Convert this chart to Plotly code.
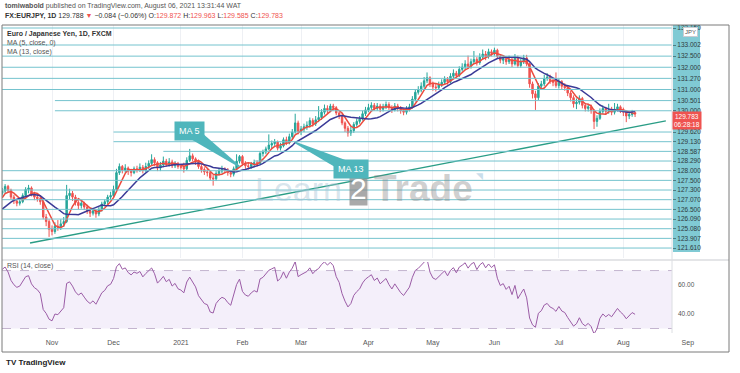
import numpy as np
import pandas as pd
import plotly.graph_objects as go

# ---------------- data ----------------
START_DATE = "2020-10-08"
# closes before the left edge (only used to warm up the indicators)
WARMUP_CLOSE = [125.30, 125.90, 125.80, 125.45, 125.30, 124.90, 124.40, 124.20, 123.30, 122.90,
                122.60, 122.65, 122.60, 123.10, 123.10, 123.75, 124.05, 123.70, 124.35, 124.15, 124.60]

CLOSE = [
    124.75, 125.05, 124.80, 124.35, 124.10, 123.95, 124.05, 124.45, 124.85, 124.95, 124.55, 124.35, 124.25, 124.05, 123.05, 122.75, 122.25,
    122.10, 122.45, 122.40, 122.60, 122.75, 124.45, 124.60, 124.35, 124.00, 123.80, 123.95, 123.70, 123.45, 123.30, 123.45, 123.25, 123.55, 123.90, 124.05, 124.35, 124.45,
    124.85, 125.95, 126.35, 126.10, 126.25, 126.05, 125.95, 126.20, 126.15, 126.30, 126.10, 126.35, 126.55, 126.80, 126.60, 126.25, 126.45, 126.70, 126.50, 126.65, 126.40, 126.55, 126.35,
    126.30, 126.20, 126.75, 127.05, 126.85, 126.70, 126.35, 126.15, 126.00, 125.95, 125.60, 125.55, 125.90, 126.05, 126.15, 126.10, 125.95, 125.85, 126.20, 126.70, 127.00,
    126.55, 126.40, 126.35, 126.50, 126.60, 126.55, 127.20, 127.30, 127.50, 127.75, 127.85, 127.95, 127.55, 127.70, 128.10, 127.90, 128.30, 128.60, 129.20, 128.65,
    128.80, 128.95, 129.05, 129.35, 129.15, 129.40, 129.55, 129.90, 130.15, 130.05, 130.30, 130.20, 129.85, 129.65, 129.20, 128.85, 128.55, 128.70, 129.10, 129.30, 129.45, 129.80, 130.05,
    130.20, 130.35, 130.15, 130.30, 130.10, 130.25, 130.40, 130.20, 130.05, 130.30, 130.15, 130.00, 129.90, 130.10, 130.25, 130.75, 131.20, 131.35, 131.60, 131.95, 132.15, 131.75,
    131.55, 131.50, 131.70, 131.85, 132.05, 131.90, 132.25, 132.45, 132.30, 132.70, 132.85, 133.05, 132.90, 133.20, 133.35, 133.15, 133.50, 133.70, 133.55, 133.85, 133.75,
    133.95, 133.55, 133.30, 133.40, 133.20, 133.35, 133.05, 133.50, 132.95, 133.20, 133.45, 133.05, 131.75, 131.10, 130.85, 131.60, 131.75, 132.10, 132.20, 131.95, 131.85, 131.65,
    131.90, 131.60, 131.50, 131.15, 130.85, 130.45, 130.55, 130.80, 130.35, 130.15, 130.25, 130.00, 129.30, 129.50, 129.95, 130.15, 129.95, 130.05, 129.90, 130.10, 130.25, 130.05,
    129.90, 129.65, 129.75, 129.872, 129.783,
]
HIGH = [
    124.95, 125.20, 125.15, 124.90, 124.50, 124.20, 124.30, 124.60, 125.00, 125.15, 125.05, 124.70, 124.55, 124.40, 124.15, 123.25, 122.90,
    122.50, 122.70, 122.85, 122.90, 123.05, 125.15, 124.90, 124.75, 124.50, 124.15, 124.10, 124.05, 123.85, 123.60, 123.65, 123.55, 123.70, 124.05, 124.20, 124.50, 124.70,
    125.10, 126.20, 126.55, 126.45, 126.50, 126.35, 126.20, 126.35, 126.40, 126.55, 126.45, 126.60, 126.75, 127.15, 126.95, 126.70, 126.65, 127.00, 126.85, 126.90, 126.80, 126.70, 126.65,
    126.45, 126.60, 126.95, 127.50, 127.20, 126.95, 126.80, 126.50, 126.30, 126.20, 126.05, 125.80, 126.05, 126.25, 126.40, 126.30, 126.25, 126.10, 126.35, 127.15, 127.10,
    127.10, 126.70, 126.60, 126.65, 126.80, 126.75, 127.35, 127.45, 127.65, 128.45, 128.05, 128.15, 128.05, 127.90, 128.25, 128.30, 128.50, 128.80, 129.80, 129.35,
    129.00, 129.15, 129.30, 129.55, 129.50, 129.65, 130.30, 130.10, 130.40, 130.35, 130.45, 130.45, 130.30, 129.95, 129.75, 129.30, 129.00, 128.95, 129.25, 129.50, 129.65, 130.00, 130.25,
    130.45, 130.55, 130.50, 130.50, 130.45, 130.45, 130.60, 130.55, 130.35, 130.50, 130.45, 130.30, 130.15, 130.30, 130.45, 130.95, 131.40, 131.60, 131.85, 132.20, 132.50, 132.25,
    131.90, 131.80, 131.90, 132.05, 132.25, 132.20, 132.45, 132.70, 132.60, 132.90, 133.10, 133.30, 133.60, 133.40, 133.90, 133.50, 133.75, 134.00, 133.90, 134.05, 134.00,
    134.12, 134.05, 133.70, 133.60, 133.55, 133.60, 133.50, 133.70, 133.60, 133.40, 133.65, 133.65, 133.15, 131.90, 131.30, 131.80, 131.95, 132.35, 132.45, 132.35, 132.15, 132.50,
    132.10, 132.00, 131.80, 131.65, 131.30, 131.00, 130.80, 131.00, 130.90, 130.50, 130.45, 130.40, 130.10, 129.70, 130.15, 130.35, 130.25, 130.45, 130.25, 130.50, 130.45, 130.35,
    130.20, 130.00, 129.95, 130.05, 129.963,
]
LOW = [
    124.45, 124.60, 124.65, 124.20, 123.90, 123.75, 123.80, 123.95, 124.35, 124.60, 124.40, 124.15, 124.05, 123.85, 122.90, 122.45, 121.75,
    121.85, 121.95, 122.15, 122.20, 122.40, 122.65, 124.20, 124.10, 123.80, 123.55, 123.60, 123.50, 123.25, 123.05, 123.15, 123.00, 123.10, 123.40, 123.75, 123.90, 124.15,
    124.30, 124.75, 125.80, 125.90, 125.95, 125.80, 125.70, 125.85, 125.95, 126.00, 125.90, 126.00, 126.20, 126.45, 126.40, 126.05, 126.05, 126.30, 126.35, 126.35, 126.25, 126.25, 126.20,
    126.15, 125.95, 126.10, 126.65, 126.70, 126.45, 126.20, 125.95, 125.80, 125.70, 125.45, 125.10, 125.40, 125.75, 125.90, 125.90, 125.75, 125.65, 125.70, 126.10, 126.55,
    126.40, 126.20, 126.15, 126.20, 126.35, 126.35, 126.45, 127.00, 127.15, 127.40, 127.55, 127.70, 127.40, 127.40, 127.60, 127.75, 127.80, 128.15, 128.50, 128.45,
    128.40, 128.60, 128.75, 128.90, 128.95, 129.00, 129.25, 129.40, 129.75, 129.85, 129.90, 130.00, 129.70, 129.45, 129.05, 128.60, 128.30, 128.35, 128.55, 128.95, 129.15, 129.35, 129.65,
    129.90, 130.05, 130.00, 130.00, 129.90, 129.95, 130.10, 130.05, 129.85, 129.95, 129.95, 129.80, 129.70, 129.75, 129.95, 130.15, 130.60, 131.05, 131.20, 131.45, 131.80, 131.55,
    131.30, 131.25, 131.35, 131.55, 131.70, 131.70, 131.80, 132.10, 132.10, 132.20, 132.55, 132.70, 132.75, 132.75, 133.05, 132.95, 133.00, 133.35, 133.30, 133.40, 133.55,
    133.60, 133.40, 133.10, 133.05, 133.00, 133.05, 132.85, 132.95, 132.80, 132.80, 133.05, 132.90, 131.50, 130.80, 130.05, 130.70, 131.40, 131.60, 131.95, 131.75, 131.60, 131.50,
    131.45, 131.40, 131.30, 130.95, 130.60, 130.20, 130.10, 130.40, 130.15, 129.95, 129.95, 129.80, 128.80, 128.95, 129.40, 129.80, 129.75, 129.80, 129.70, 129.75, 129.95, 129.85,
    129.65, 129.25, 129.45, 129.60, 129.585,
]

MONTH_LABELS = ["Nov", "Dec", "2021", "Feb", "Mar", "Apr", "May", "Jun", "Jul", "Aug", "Sep"]
MONTH_STARTS = ["2020-11-01", "2020-12-01", "2021-01-01", "2021-02-01", "2021-03-01", "2021-04-01",
                "2021-05-01", "2021-06-01", "2021-07-01", "2021-08-01", "2021-09-01"]

# horizontal levels drawn by the author (label, row on the stacked level scale, first bar of the line)
LEVEL_LABELS = ["133.150", "133.002", "132.500", "132.000", "131.270", "131.000", "130.501", "130.000",
                "129.620", "129.130", "128.587", "128.290", "128.000", "127.500", "127.300", "127.070",
                "126.500", "126.090", "125.080", "123.907", "121.610"]
LEVEL_ROWS = [-1.76, 0, 1.15, 2.3, 3.45, 4.6, 5.75, 6.8, 9, 10, 11, 12, 13, 14, 15, 16, 17, 18, 19, 20, 21]
LEVEL_START = [0, 0, 0, 0, 0, 0, 18, 18, 38, 38, 55, 86, 0, 0, 0, 0, 0, 0, 0, 0, 0]
LAST_PRICE_ROW = 7.85

TREND_BARS = [9.5, 226.5]
TREND_PRICES = [121.35, 129.33]

CALLOUT_TEXT = ["MA 5", "MA 13"]
CALLOUT_BOX_BAR = [64, 119]
CALLOUT_BOX_PRICE = [128.68, 126.19]
CALLOUT_TIP_BAR = [81, 100]

LAST_PRICE_TAG = "129.783<br>06:28:18"

# ---------------- geometry ----------------
W, H = 740, 373
PX_L, PX_R, PY_T, PY_B = 2, 700, 25, 352
PANE_R = 672            # right edge of the panes (price scale starts here)
FRAME_R = 729
PRICE_BOT_PX = 258
RSI_TOP_PX, RSI_BOT_PX = 262, 333
X_RANGE = [-0.065, 238.16]
Y_RANGE = [120.37, 135.60]
ROW_RANGE = [22.03, -2.07]
RSI_RANGE = [26.9, 75.9]


def paper_x(px):
    return (px - PX_L) / (PX_R - PX_L)


def paper_y(py):
    return (PY_B - py) / (PY_B - PY_T)


def bar_to_px(b):
    return PX_L + (b - X_RANGE[0]) / (X_RANGE[1] - X_RANGE[0]) * (PX_R - PX_L)


def px_to_bar(px):
    return X_RANGE[0] + (px - PX_L) / (PX_R - PX_L) * (X_RANGE[1] - X_RANGE[0])


def price_to_py(p):
    return PY_T + (Y_RANGE[1] - p) / (Y_RANGE[1] - Y_RANGE[0]) * (PRICE_BOT_PX - PY_T)


def py_to_price(py):
    return Y_RANGE[1] - (py - PY_T) / (PRICE_BOT_PX - PY_T) * (Y_RANGE[1] - Y_RANGE[0])


# ---------------- derived series ----------------
n = len(CLOSE)
bars = np.arange(n)
full_close = pd.Series(WARMUP_CLOSE + CLOSE)
nw = len(WARMUP_CLOSE)
opens = full_close.shift(1).iloc[nw:].to_numpy()
close = np.array(CLOSE)
high = np.maximum.reduce([np.array(HIGH), opens, close])
low = np.minimum.reduce([np.array(LOW), opens, close])

ma5 = full_close.rolling(5).mean().iloc[nw:].to_numpy()
ma13 = full_close.rolling(13).mean().iloc[nw:].to_numpy()

delta = full_close.diff()
gain = delta.clip(lower=0)
loss = -delta.clip(upper=0)
avg_gain = gain.ewm(alpha=1 / 14, adjust=False).mean()
avg_loss = loss.ewm(alpha=1 / 14, adjust=False).mean()
rsi = (100 - 100 / (1 + avg_gain / avg_loss)).iloc[nw:].to_numpy()

dates = pd.bdate_range(START_DATE, periods=260)
month_idx = [int(np.argmax(dates >= pd.Timestamp(m))) for m in MONTH_STARTS]
pane_end_bar = px_to_bar(PANE_R)

# ---------------- figure ----------------
LEVEL_COLOR = "#74c3ce"
UP, DOWN = "#26a69a", "#ef5350"
MA5_COLOR, MA13_COLOR = "#ec4b3e", "#3b3a97"
TREND_COLOR = "#2a9d86"
RSI_COLOR = "#9b5ca6"
TEAL = "#4fb6bc"
FONT = "Liberation Sans"

fig = go.Figure()

for lab, row, start in zip(LEVEL_LABELS, LEVEL_ROWS, LEVEL_START):
    fig.add_trace(go.Scatter(x=[start, pane_end_bar], y=[row, row], xaxis="x", yaxis="y3",
                             mode="lines", line=dict(color=LEVEL_COLOR, width=1),
                             hoverinfo="skip", showlegend=False))

fig.add_trace(go.Scatter(x=TREND_BARS, y=TREND_PRICES, xaxis="x", yaxis="y", mode="lines",
                         line=dict(color=TREND_COLOR, width=1.4), hoverinfo="skip"))

fig.add_trace(go.Candlestick(x=bars, open=opens, high=high, low=low, close=close,
                             xaxis="x", yaxis="y",
                             increasing=dict(line=dict(color=UP, width=1), fillcolor=UP),
                             decreasing=dict(line=dict(color=DOWN, width=1), fillcolor=DOWN),
                             whiskerwidth=0, showlegend=False))

fig.add_trace(go.Scatter(x=bars, y=ma5, xaxis="x", yaxis="y", mode="lines",
                         line=dict(color=MA5_COLOR, width=1.5), hoverinfo="skip"))
fig.add_trace(go.Scatter(x=bars, y=ma13, xaxis="x", yaxis="y", mode="lines",
                         line=dict(color=MA13_COLOR, width=1.5), hoverinfo="skip"))

fig.add_trace(go.Scatter(x=bars, y=rsi, xaxis="x2", yaxis="y2", mode="lines",
                         line=dict(color=RSI_COLOR, width=1), hoverinfo="skip"))

shapes = []
# price-scale label backgrounds of the drawn levels
shapes.append(dict(type="rect", xref="paper", yref="paper", x0=paper_x(PANE_R + 1), x1=paper_x(700),
                   y0=paper_y(252), y1=paper_y(PY_T), fillcolor="#80cad4", line=dict(width=0), layer="below"))
# RSI band and bounds
shapes.append(dict(type="rect", xref="paper", yref="y2", x0=0, x1=paper_x(PANE_R), y0=30, y1=70,
                   fillcolor="rgba(155,105,205,0.11)", line=dict(width=0), layer="below"))
for lvl in (70, 30):
    shapes.append(dict(type="line", xref="paper", yref="y2", x0=0, x1=paper_x(PANE_R), y0=lvl, y1=lvl,
                       line=dict(color="#c4b5cf", width=1, dash="dash"), layer="below"))
# pane separator, pane right edge, outer frame
shapes.append(dict(type="line", xref="paper", yref="paper", x0=0, x1=paper_x(FRAME_R),
                   y0=paper_y(260), y1=paper_y(260), line=dict(color="#c9cbd0", width=1)))
shapes.append(dict(type="line", xref="paper", yref="paper", x0=paper_x(PANE_R), x1=paper_x(PANE_R),
                   y0=paper_y(RSI_BOT_PX), y1=1, line=dict(color="#dcdee2", width=1)))
shapes.append(dict(type="rect", xref="paper", yref="paper", x0=0, x1=paper_x(FRAME_R), y0=0, y1=1,
                   line=dict(color="#7a7a7a", width=1), fillcolor="rgba(0,0,0,0)"))

# callout wedges
tip_prices = [ma5[CALLOUT_TIP_BAR[0]], ma13[CALLOUT_TIP_BAR[1]]]
for bb, bp, tb, tp in zip(CALLOUT_BOX_BAR, CALLOUT_BOX_PRICE, CALLOUT_TIP_BAR, tip_prices):
    bx, by = bar_to_px(bb), price_to_py(bp)
    tx, ty = bar_to_px(tb), price_to_py(tp)
    dx, dy = tx - bx, ty - by
    L = (dx * dx + dy * dy) ** 0.5
    nx, ny = -dy / L, dx / L
    wb, wt = 6.5, 0.8
    pts = [(bx + nx * wb, by + ny * wb), (tx + nx * wt, ty + ny * wt),
           (tx - nx * wt, ty - ny * wt), (bx - nx * wb, by - ny * wb)]
    path = "M " + " L ".join(f"{px_to_bar(px):.3f},{py_to_price(py):.3f}" for px, py in pts) + " Z"
    shapes.append(dict(type="path", xref="x", yref="y", path=path, fillcolor=TEAL,
                       line=dict(width=0)))

ann = []


def txt(px, py, text, size=7, color="#444", xanchor="left", **kw):
    ann.append(dict(xref="paper", yref="paper", x=paper_x(px), y=paper_y(py), text=text,
                    showarrow=False, xanchor=xanchor, yanchor="middle",
                    font=dict(size=size, color=color, family=FONT), **kw))


RED = "#ef5350"
txt(3, 6, "<b>tomiwabold</b> published on TradingView.com, August 06, 2021 13:31:44 WAT", 7, "#555")
txt(3, 16, f"<b>FX:EURJPY, 1D</b> 129.788 <span style='color:{RED}'>▼</span> −0.084 (−0.06%) "
           f"O:<span style='color:{RED}'>129.872</span> H:<span style='color:{RED}'>129.963</span> "
           f"L:<span style='color:{RED}'>129.585</span> C:<span style='color:{RED}'>129.783</span>", 7, "#333")
txt(5, 34, "<b>Euro / Japanese Yen, 1D, FXCM</b>", 7, "#333")
txt(5, 43, "MA (5, close, 0)", 7, "#555")
txt(5, 52, "MA (13, close)", 7, "#555")
txt(5, 266, "RSI (14, close)", 7, "#555")
txt(4, 362, "<b>TV</b> <b>TradingView</b>", 8, "#222")

# watermark
txt(343, 189, "Learn", 34, "rgba(170,198,215,0.45)", xanchor="right", borderpad=0)
txt(358.5, 188, "2", 30, "white", xanchor="center", bgcolor="rgba(140,140,140,0.75)", borderpad=0)
txt(373, 188, "<b>Trade</b>", 37, "rgba(130,130,130,0.38)", borderpad=0)
txt(479, 176, "◥", 9, "rgba(150,190,215,0.5)", xanchor="center")

# price-scale badges
txt(690, 32, "JPY", 6, "#555", xanchor="center", bgcolor="white", bordercolor="#c8ccd2",
    borderwidth=1, borderpad=1)
ann.append(dict(xref="paper", yref="y3", x=paper_x(686.5), y=LAST_PRICE_ROW, text=LAST_PRICE_TAG,
                showarrow=False, xanchor="center", yanchor="middle", bgcolor="#ef5350",
                borderpad=1, font=dict(size=6.5, color="white", family=FONT)))

# callout boxes
for t, bb, bp in zip(CALLOUT_TEXT, CALLOUT_BOX_BAR, CALLOUT_BOX_PRICE):
    ann.append(dict(xref="x", yref="y", x=bb, y=bp, text=t, showarrow=False,
                    xanchor="center", yanchor="middle", bgcolor=TEAL, borderpad=4,
                    font=dict(size=9, color="white", family=FONT)))

grid = dict(showgrid=True, gridcolor="#eef0f4", gridwidth=1)
fig.update_layout(
    width=W, height=H, margin=dict(l=PX_L, r=W - PX_R, t=PY_T, b=H - PY_B),
    paper_bgcolor="white", plot_bgcolor="white", showlegend=False,
    font=dict(family=FONT, size=7, color="#444"),
    xaxis=dict(domain=[0, 1], range=X_RANGE, anchor="y", tickvals=month_idx[:-1], showticklabels=False,
               zeroline=False, showline=False, rangeslider=dict(visible=False), ticks="", **grid),
    xaxis2=dict(domain=[0, 1], range=X_RANGE, anchor="y2", matches="x", tickvals=month_idx,
                ticktext=MONTH_LABELS, tickfont=dict(size=7, color="#555"), ticks="",
                ticklabelstandoff=4, zeroline=False, showline=False, showgrid=False),
    yaxis=dict(domain=[paper_y(PRICE_BOT_PX), 1], range=Y_RANGE, anchor="x", showticklabels=False,
               showgrid=False, zeroline=False, ticks=""),
    yaxis3=dict(overlaying="y", anchor="free", position=paper_x(PANE_R), side="right",
                range=ROW_RANGE, tickvals=LEVEL_ROWS, ticktext=LEVEL_LABELS, ticks="outside",
                ticklen=3, tickcolor="#4d7d84", tickfont=dict(size=6.5, color="#2f3b40"),
                showgrid=False, zeroline=False, showline=False),
    yaxis2=dict(domain=[paper_y(RSI_BOT_PX), paper_y(RSI_TOP_PX)], range=RSI_RANGE, anchor="free",
                position=paper_x(PANE_R), side="right", tickvals=[40, 60], ticktext=["40.00", "60.00"],
                ticks="", ticklabelstandoff=5, tickfont=dict(size=6.5, color="#555"),
                showgrid=False, zeroline=False, showline=False),
    shapes=shapes, annotations=ann,
)

fig.write_html("out.html", config={"displayModeBar": False},
               post_script="document.body.style.margin='0px';")
